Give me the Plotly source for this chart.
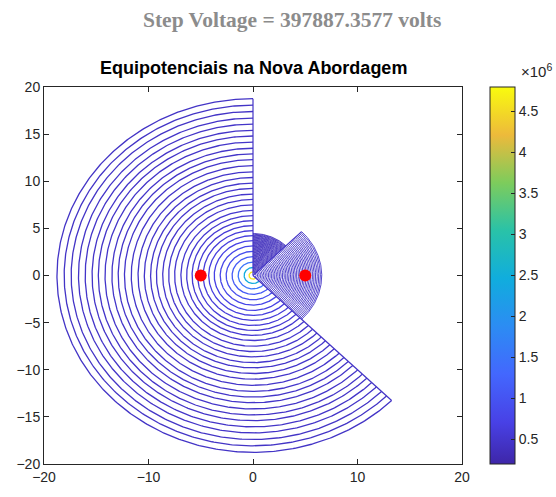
import numpy as np
import plotly.graph_objects as go

# ---- data ---------------------------------------------------------------
# Equipotential radii (m) and potential levels (V) in the main sector
main_radii = [0.38, 0.85, 1.42, 2.0, 2.57, 3.14, 3.71, 4.24, 4.77, 5.3, 5.83, 6.35,
              6.9, 7.5, 8.07, 8.64, 9.24, 9.8, 10.4, 11.0, 11.65, 12.3, 12.9, 13.5,
              14.16, 14.8, 15.4, 16.06, 16.7, 17.4, 18.07, 18.76]
main_levels = [4.6e6, 2.45e6, 1.5e6, 1.1e6, 0.9e6, 0.78e6, 0.70e6, 0.65e6, 0.61e6,
               0.58e6, 0.56e6, 0.54e6, 0.53e6, 0.52e6, 0.51e6, 0.50e6, 0.50e6, 0.49e6,
               0.49e6, 0.48e6, 0.48e6, 0.48e6, 0.47e6, 0.47e6, 0.47e6, 0.46e6, 0.46e6,
               0.46e6, 0.46e6, 0.45e6, 0.45e6, 0.45e6]

# Equipotentials in the right wedge
right_radii = [0.30, 0.45, 0.60, 0.75, 0.90, 1.05, 1.20, 1.35, 1.50, 1.65, 1.80, 1.95,
               2.10, 2.25, 2.40, 2.55, 2.70, 2.85, 3.00, 3.15, 3.30, 3.45, 3.60, 3.75,
               3.90, 4.05, 4.20, 4.35, 4.50, 4.65, 4.80, 4.95, 5.10, 5.25, 5.40, 5.55,
               5.70, 5.85, 6.00, 6.15, 6.30, 6.45, 6.58]
right_level = 0.45e6

# Equipotentials in the upper wedge
upper_radii = [0.30, 0.38, 0.46, 0.54, 0.62, 0.70, 0.78, 0.86, 0.94, 1.02, 1.10, 1.18,
               1.26, 1.34, 1.42, 1.50, 1.58, 1.66, 1.74, 1.82, 1.90, 1.98, 2.06, 2.14,
               2.22, 2.30, 2.38, 2.46, 2.54, 2.62, 2.70, 2.78, 2.86, 2.94, 3.02, 3.10,
               3.18, 3.26, 3.34, 3.42, 3.50, 3.58, 3.66, 3.74, 3.82, 3.90, 3.98, 4.06,
               4.14, 4.22, 4.30, 4.38, 4.46]
upper_level = 0.36e6

# Sector angular spans (degrees, counter-clockwise)
main_sector = (90, 315)
right_sector = (-45, 45)
upper_sector = (45, 90)

# Electrode positions
electrode_x = [-5, 5]
electrode_y = [0, 0]

# Colour axis
cmin, cmax = 0.2e6, 4.8e6
cbar_ticks = [0.5e6, 1e6, 1.5e6, 2e6, 2.5e6, 3e6, 3.5e6, 4e6, 4.5e6]
cbar_labels = ["0.5", "1", "1.5", "2", "2.5", "3", "3.5", "4", "4.5"]
axis_ticks_x = [-20, -10, 0, 10, 20]
axis_ticks_y = [-20, -15, -10, -5, 0, 5, 10, 15, 20]

step_voltage = 397887.3577

# ---- parula colormap ------------------------------------------------------
parula_stops = [
    (0.000, (0.2422, 0.1504, 0.6603)),
    (0.111, (0.2810, 0.2560, 0.9000)),
    (0.238, (0.2628, 0.4050, 0.9956)),
    (0.365, (0.1707, 0.5495, 0.9527)),
    (0.492, (0.0641, 0.6790, 0.8654)),
    (0.619, (0.1600, 0.7600, 0.6600)),
    (0.746, (0.4900, 0.8000, 0.3600)),
    (0.873, (0.9300, 0.7300, 0.2300)),
    (1.000, (0.9763, 0.9831, 0.0538)),
]


def rgb_str(c):
    return "rgb(%d,%d,%d)" % tuple(int(round(v * 255)) for v in c)


def parula(value):
    t = min(max((value - cmin) / (cmax - cmin), 0.0), 1.0)
    for (t0, c0), (t1, c1) in zip(parula_stops[:-1], parula_stops[1:]):
        if t <= t1:
            f = (t - t0) / (t1 - t0) if t1 > t0 else 0
            return rgb_str([a + (b - a) * f for a, b in zip(c0, c1)])
    return rgb_str(parula_stops[-1][1])


colorscale = [[t, rgb_str(c)] for t, c in parula_stops]


def arc(r, span, n=240):
    th = np.radians(np.linspace(span[0], span[1], n))
    return r * np.cos(th), r * np.sin(th)


fig = go.Figure()

# colour bar carrier
fig.add_trace(go.Scatter(
    x=[0, 0], y=[0, 0], mode="markers", hoverinfo="skip", showlegend=False,
    marker=dict(size=1, opacity=0, color=[cmin, cmax], cmin=cmin, cmax=cmax,
                colorscale=colorscale, showscale=True,
                colorbar=dict(x=1.068, xanchor="left", xpad=0, y=0.5, yanchor="middle",
                              len=1.0, lenmode="fraction", ypad=0, thickness=25,
                              outlinecolor="#262626", outlinewidth=1,
                              ticks="inside", ticklen=4, tickcolor="#262626",
                              tickvals=cbar_ticks, ticktext=cbar_labels,
                              tickfont=dict(family="Arial, Liberation Sans", size=14,
                                            color="#262626"))),
))

# wedge equipotentials
for radii, level, span in [(upper_radii, upper_level, upper_sector),
                           (right_radii, right_level, right_sector)]:
    for r in radii:
        x, y = arc(r, span)
        fig.add_trace(go.Scatter(x=x, y=y, mode="lines", showlegend=False,
                                 hoverinfo="skip",
                                 line=dict(color=parula(level), width=0.9)))

# main sector equipotentials
for r, v in zip(main_radii, main_levels):
    x, y = arc(r, main_sector, 400)
    fig.add_trace(go.Scatter(x=x, y=y, mode="lines", showlegend=False,
                             hoverinfo="skip",
                             line=dict(color=parula(v), width=1.3)))

# sector boundaries
edge_color = parula(main_levels[-1])
for ang, rmax in [(main_sector[0], main_radii[-1]), (main_sector[1], main_radii[-1]),
                  (right_sector[1], right_radii[-1])]:
    th = np.radians(ang)
    fig.add_trace(go.Scatter(x=[0, rmax * np.cos(th)], y=[0, rmax * np.sin(th)],
                             mode="lines", showlegend=False, hoverinfo="skip",
                             line=dict(color=edge_color, width=1.2)))

# electrodes
fig.add_trace(go.Scatter(x=electrode_x, y=electrode_y, mode="markers",
                         showlegend=False,
                         marker=dict(color="#ff0000", size=12, line=dict(width=0))))

axis_common = dict(range=[-20, 20], showgrid=False, zeroline=False, showline=True,
                   linecolor="#262626", linewidth=1, mirror="ticks", ticks="inside",
                   ticklen=5, tickcolor="#262626",
                   tickfont=dict(family="Arial, Liberation Sans", size=14,
                                 color="#262626"))

fig.update_layout(
    width=556, height=497,
    margin=dict(l=44, r=93, t=87, b=31),
    paper_bgcolor="white", plot_bgcolor="white",
    xaxis=dict(tickvals=axis_ticks_x, **axis_common),
    yaxis=dict(tickvals=axis_ticks_y, **axis_common),
    annotations=[
        dict(text="<b>Step Voltage = %.4f volts</b>" % step_voltage,
             xref="paper", yref="paper", x=0.5, xshift=292 - 253.5,
             y=1.0, yshift=87 - 20,
             xanchor="center", yanchor="middle", showarrow=False,
             font=dict(family="Liberation Serif, Times New Roman", size=21.5,
                       color="#8c8c8c")),
        dict(text="<b>Equipotenciais na Nova Abordagem</b>",
             xref="paper", yref="paper", x=0.5, y=1.0, yshift=87 - 68,
             xanchor="center", yanchor="middle", showarrow=False,
             font=dict(family="Arial, Liberation Sans", size=18, color="#000000")),
        dict(text="×10<sup>6</sup>", xref="paper", yref="paper",
             x=1.0, xshift=537 - 463, y=1.0, yshift=87 - 70,
             xanchor="center", yanchor="middle", showarrow=False,
             font=dict(family="Arial, Liberation Sans", size=15, color="#262626")),
    ],
)

fig.write_html("out.html")
